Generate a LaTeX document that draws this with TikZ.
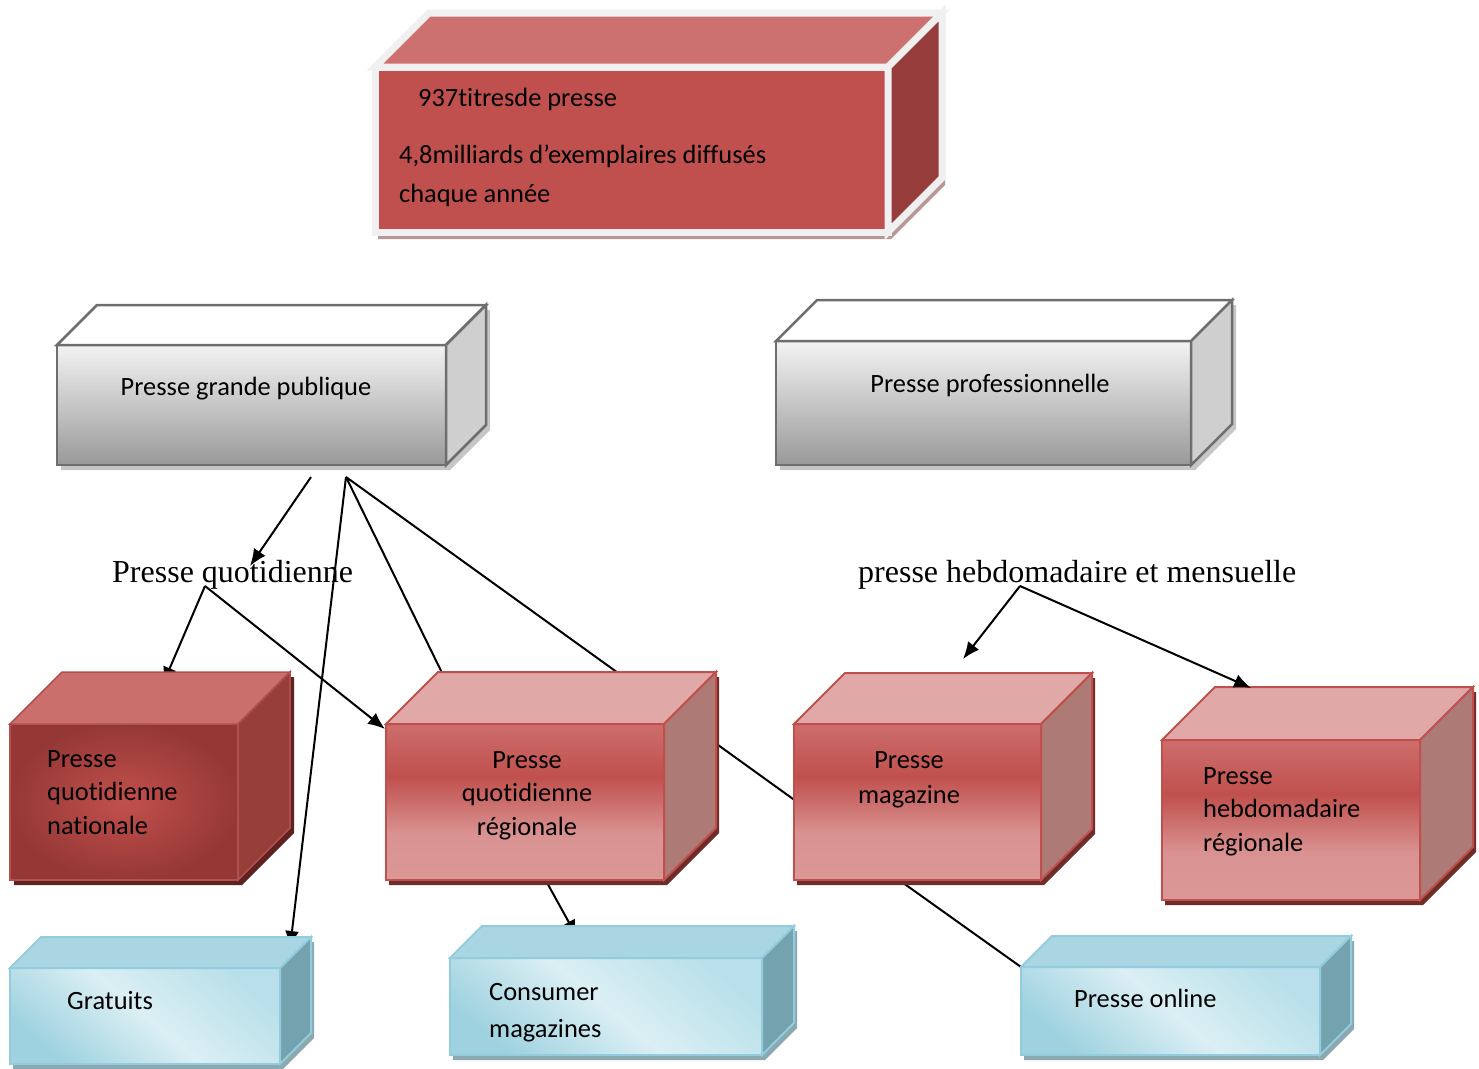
\documentclass[tikz,border=0pt]{standalone}
\usepackage{fontspec}
\setmainfont{Liberation Serif}
\newfontfamily\boxfont{Carlito}[Ligatures=NoCommon]
\usetikzlibrary{arrows.meta,fit}

% palette
\definecolor{tbFront}{HTML}{C0504D}
\definecolor{tbTop}{HTML}{CC716F}
\definecolor{tbSide}{HTML}{963C3A}
\definecolor{tbEdge}{HTML}{F0F0F0}
\definecolor{tbShadow}{HTML}{B89797}
\definecolor{gyTop}{HTML}{F3F3F3}
\definecolor{gyBot}{HTML}{999999}
\definecolor{gySide}{HTML}{CFCFCF}
\definecolor{gyEdge}{HTML}{6E6E6E}
\definecolor{gyShadow}{HTML}{C6C6C6}
\definecolor{drIn}{HTML}{C2504D}
\definecolor{drOut}{HTML}{953835}
\definecolor{drTop}{HTML}{CB6F6D}
\definecolor{drSide}{HTML}{973E3B}
\definecolor{drEdge}{HTML}{B0514E}
\definecolor{drShadow}{HTML}{5E2221}
\definecolor{rsTop}{HTML}{CD6E6C}
\definecolor{rsMid}{HTML}{C0504D}
\definecolor{rsLow}{HTML}{D99291}
\definecolor{rsBot}{HTML}{DB9897}
\definecolor{rsLid}{HTML}{E0A9A8}
\definecolor{rsSide}{HTML}{AD7A76}
\definecolor{rsEdge}{HTML}{C0504D}
\definecolor{rsShadow}{HTML}{6E2C2A}
\definecolor{blLight}{HTML}{DBEFF4}
\definecolor{blDark}{HTML}{9FD2E0}
\definecolor{blMid}{HTML}{B9E0EA}
\definecolor{blLid}{HTML}{A9D6E2}
\definecolor{blSide}{HTML}{74A3AF}
\definecolor{blEdge}{HTML}{93CDDD}
\definecolor{blShadow}{HTML}{8CA8B1}

\pgfdeclareverticalshading{greyface}{100bp}{color(0bp)=(gyBot); color(25bp)=(gyBot); color(75bp)=(gyTop); color(100bp)=(gyTop)}
\pgfdeclareverticalshading{roseface}{100bp}{color(0bp)=(rsBot); color(25bp)=(rsBot); color(40bp)=(rsLow); color(58bp)=(rsMid); color(75bp)=(rsTop); color(100bp)=(rsTop)}

% #1 name, #2 left, #3 top, #4 right, #5 bottom (front face), #6 depth, #7 family
\newcommand\cuboid[7]{%
  \fill[#7 shadow] (#2,#3) -- (#2+#6,#3-#6) -- (#4+#6,#3-#6) -- (#4+#6,#5-#6) -- (#4,#5) -- (#2,#5) -- cycle;
  \path[#7 front] (#2,#3) rectangle (#4,#5);
  \path[#7 top] (#2,#3) -- (#2+#6,#3-#6) -- (#4+#6,#3-#6) -- (#4,#3) -- cycle;
  \path[#7 side] (#4,#3) -- (#4+#6,#3-#6) -- (#4+#6,#5-#6) -- (#4,#5) -- cycle;
  \node[fit={(#2,#3) (#4,#5)}, inner sep=0pt, outer sep=0pt] (#1) {};
}
\newcommand\boxlines[2]{\begin{tabular}[t]{@{}#1@{}}#2\end{tabular}}

\tikzset{
  topbox front/.style={fill=tbFront, draw=tbEdge, line width=7pt},
  topbox top/.style={fill=tbTop, draw=tbEdge, line width=7pt},
  topbox side/.style={fill=tbSide, draw=tbEdge, line width=7pt},
  topbox shadow/.style={fill=tbShadow, shift={(3,7)}},
  greybox front/.style={shade, shading=greyface, draw=gyEdge, line width=2.5pt},
  greybox top/.style={fill=white, draw=gyEdge, line width=2.5pt},
  greybox side/.style={fill=gySide, draw=gyEdge, line width=2.5pt},
  greybox shadow/.style={fill=gyShadow, shift={(4,5)}},
  darkred front/.style={inner color=drIn, outer color=drOut, draw=drEdge, line width=1.5pt},
  darkred top/.style={fill=drTop, draw=drEdge, line width=1.5pt},
  darkred side/.style={fill=drSide, draw=drEdge, line width=1.5pt},
  darkred shadow/.style={fill=drShadow, shift={(4,5)}},
  rosered front/.style={shade, shading=roseface, draw=rsEdge, line width=2pt},
  rosered top/.style={fill=rsLid, draw=rsEdge, line width=2pt},
  rosered side/.style={fill=rsSide, draw=rsEdge, line width=2pt},
  rosered shadow/.style={fill=rsShadow, shift={(3,5)}},
  bluebox front/.style={bottom color=blDark, top color=blMid, middle color=blLight, shading angle=-40, draw=blEdge, line width=2pt},
  bluebox top/.style={fill=blLid, draw=blEdge, line width=2pt},
  bluebox side/.style={fill=blSide, draw=blEdge, line width=2pt},
  bluebox shadow/.style={fill=blShadow, shift={(3,5)}},
  boxtext/.style={font=\boxfont\fontsize{26.4}{33.5}\selectfont, inner sep=0pt, text=black},
  lbl/.style={font=\fontsize{32}{38}\selectfont, inner sep=0pt, text=black},
  arr/.style={-{Latex[length=17pt,width=14pt]}, line width=2pt},
  plain link/.style={line width=2pt},
}

\begin{document}
\begin{tikzpicture}[x=1pt,y=-1pt]
\useasboundingbox (0,0) rectangle (1479,1068);

% connector ends
\coordinate (pgp-l) at (311,477);
\coordinate (pgp-r) at (346,477);
\coordinate (pq-fork) at (205,586);
\coordinate (ph-fork) at (1020,586);
\coordinate (pq-in) at (250,566);
\coordinate (gra-in) at (290,948);
\coordinate (pqr-lid) at (447,683);
\coordinate (mag-side) at (800,804);
\coordinate (pqn-in) at (163,684);
\coordinate (pqr-in) at (385,729);
\coordinate (pqr-foot) at (540,870);
\coordinate (con-in) at (577,937);
\coordinate (mag-foot) at (892,875);
\coordinate (onl-in) at (1021,967);
\coordinate (mag-in) at (963,659);
\coordinate (phr-in) at (1251,688);

% links running behind the boxes
\draw[arr] (pgp-r) -- (gra-in);
\draw[plain link] (pgp-r) -- (pqr-lid);
\draw[plain link] (pgp-r) -- (mag-side);
\draw[arr] (pq-fork) -- (pqn-in);
\draw[arr] (pqr-foot) -- (con-in);
\draw[plain link] (mag-foot) -- (onl-in);

% boxes
\cuboid{top}{375}{67}{888}{232}{54}{topbox}
\cuboid{pgp}{57}{345}{446}{465}{40}{greybox}
\cuboid{pp}{776}{341}{1191}{465}{41}{greybox}
\cuboid{pqn}{10}{724}{238}{880}{52}{darkred}
\cuboid{pqr}{386}{724}{664}{880}{52}{rosered}
\cuboid{mag}{794}{724}{1041}{880}{51}{rosered}
\cuboid{phr}{1162}{740}{1420}{900}{53}{rosered}
\cuboid{gra}{10}{968}{280}{1064}{31}{bluebox}
\cuboid{con}{450}{958}{762}{1055}{32}{bluebox}
\cuboid{onl}{1021}{967}{1320}{1055}{31}{bluebox}

% box texts
\node[boxtext, font=\boxfont\fontsize{26.4}{39}\selectfont, anchor=base west] (top-t) at (399,106)
  {\boxlines{l}{\hspace*{19pt}937titresde presse\\[18pt]4,8milliards d’exemplaires diffusés\\chaque année}};
\node[boxtext, anchor=base] (pgp-t) at (246,395) {Presse grande publique};
\node[boxtext, anchor=base] (pp-t) at (990,392) {Presse professionnelle};
\node[boxtext, anchor=base west] (pqn-t) at (47,767) {\boxlines{l}{Presse\\quotidienne\\nationale}};
\node[boxtext, anchor=base] (pqr-t) at (527,768) {\boxlines{c}{Presse\\quotidienne\\régionale}};
\node[boxtext, font=\boxfont\fontsize{26.4}{35}\selectfont, anchor=base] (mag-t) at (909,768) {\boxlines{c}{Presse\\magazine}};
\node[boxtext, anchor=base west] (phr-t) at (1203,784) {\boxlines{l}{Presse\\hebdomadaire\\régionale}};
\node[boxtext, anchor=base west] (gra-t) at (67,1009) {Gratuits};
\node[boxtext, font=\boxfont\fontsize{26.4}{37}\selectfont, anchor=base west] (con-t) at (489,1000) {\boxlines{l}{Consumer\\magazines}};
\node[boxtext, anchor=base west] (onl-t) at (1074,1007) {Presse online};

% category labels
\node[lbl, anchor=base west] (pq) at (112,582) {Presse quotidienne};
\node[lbl, anchor=base west] (ph) at (858,582) {presse hebdomadaire et mensuelle};

% links drawn over everything
\draw[arr] (pgp-l) -- (pq-in);
\draw[arr] (pq-fork) -- (pqr-in);
\draw[arr] (ph-fork) -- (mag-in);
\draw[arr] (ph-fork) -- (phr-in);
\end{tikzpicture}
\end{document}
